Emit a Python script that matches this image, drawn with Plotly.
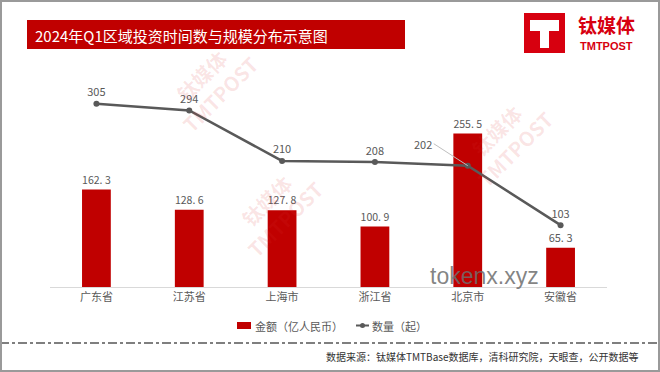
import plotly.graph_objects as go

categories = ["广东省", "江苏省", "上海市", "浙江省", "北京市", "安徽省"]
amount = [162.3, 128.6, 127.8, 100.9, 255.5, 65.3]
count = [305, 294, 210, 208, 202, 103]
amount_labels = ["162. 3", "128. 6", "127. 8", "100. 9", "255. 5", "65. 3"]

FONT = "Noto Sans CJK SC, Microsoft YaHei, sans-serif"
RED = "#C00000"
GRAY = "#595959"


def px(x):
    return (x - 50) / 557


def py(y):
    return (287 - y) / 227


fig = go.Figure()
fig.add_trace(go.Bar(
    x=categories, y=amount, name="金额（亿人民币）", showlegend=False,
    marker=dict(color=RED, line=dict(width=0)), width=0.31,
    text=amount_labels, textposition="outside", cliponaxis=False,
    textfont=dict(size=11, color=GRAY, family=FONT),
))
line_text = [str(v) if c != "北京市" else "" for c, v in zip(categories, count)]
fig.add_trace(go.Scatter(
    x=categories, y=count, name="数量（起）", mode="lines+markers+text", showlegend=False,
    line=dict(color=GRAY, width=2.5), marker=dict(size=6, color=GRAY),
    text=line_text, textposition="top center", cliponaxis=False,
    textfont=dict(size=11, color=GRAY, family=FONT),
))
# 202 label with leader line
fig.add_annotation(x="北京市", y=202, text="202", showarrow=True, arrowhead=0,
                   arrowwidth=1, arrowcolor="#bfbfbf", ax=-34, ay=-22,
                   font=dict(size=11, color=GRAY, family=FONT), xanchor="right")

fig.update_layout(
    width=660, height=372,
    margin=dict(l=50, r=53, t=60, b=85),
    paper_bgcolor="white", plot_bgcolor="white",
    font=dict(family=FONT, color=GRAY),
    showlegend=False,
    xaxis=dict(showgrid=False, ticks="", showline=True, linecolor="#d9d9d9", linewidth=1,
               tickfont=dict(size=11, color=GRAY, family=FONT)),
    yaxis=dict(range=[0, 378], visible=False, showgrid=False, zeroline=False),
)


def note(x, y, text, size, color, family=FONT, xanchor="center", angle=0):
    fig.add_annotation(xref="paper", yref="paper", x=px(x), y=py(y), xanchor=xanchor,
                       yanchor="middle", showarrow=False, text=text, textangle=angle,
                       font=dict(size=size, color=color, family=family))


# watermarks (faint)
for (wx, wy) in [(210, 85), (275, 210), (505, 140)]:
    note(wx, wy, "<b>钛媒体</b><br><b>TMTPOST</b>", 20, "rgba(220,50,50,0.13)", angle=-45)

# manual legend
fig.add_shape(type="rect", xref="paper", yref="paper", x0=px(237), x1=px(251), y0=py(329), y1=py(322),
              fillcolor=RED, line=dict(width=0))
note(253, 325.5, "金额（亿人民币）", 11, GRAY, xanchor="left")
fig.add_shape(type="line", xref="paper", yref="paper", x0=px(356), x1=px(369), y0=py(325.5), y1=py(325.5),
              line=dict(color=GRAY, width=2))
fig.add_shape(type="circle", xref="paper", yref="paper", x0=px(360), x1=px(365), y0=py(328), y1=py(323),
              fillcolor=GRAY, line=dict(width=0))
note(370, 325.5, "数量（起）", 11, GRAY, xanchor="left")

# title bar
fig.add_shape(type="rect", xref="paper", yref="paper",
              x0=px(27), x1=px(405), y0=py(49), y1=py(20),
              fillcolor=RED, line=dict(width=0), layer="below")
note(33, 35, "2024年Q1区域投资时间数与规模分布示意图", 15, "white", xanchor="left")

# logo
fig.add_shape(type="rect", xref="paper", yref="paper", x0=px(524), x1=px(565), y0=py(53), y1=py(13),
              fillcolor="#D7000F", line=dict(width=0))
fig.add_shape(type="rect", xref="paper", yref="paper", x0=px(530), x1=px(559), y0=py(31), y1=py(20),
              fillcolor="white", line=dict(width=0))
fig.add_shape(type="rect", xref="paper", yref="paper", x0=px(540), x1=px(549), y0=py(48), y1=py(31),
              fillcolor="white", line=dict(width=0))
note(606, 25, "<b>钛媒体</b>", 19, "#D7000F")
note(606, 46, "<b>TMTPOST</b>", 11, "#D7000F", family="Arial, sans-serif")

# tokenx watermark text
note(428, 276, "tokenx.xyz", 23, "rgba(110,110,110,0.85)", family="Arial, sans-serif", xanchor="left")

# dash-dot separator
fig.add_shape(type="line", xref="paper", yref="paper", x0=px(0), x1=px(660), y0=py(343), y1=py(343),
              line=dict(color="#555555", width=1.5, dash="dashdot"))
# source
note(641, 356, "数据来源：钛媒体TMTBase数据库，清科研究院，天眼查，公开数据等", 10, "#333333", xanchor="right")
# outer border
fig.add_shape(type="rect", xref="paper", yref="paper", x0=px(1), x1=px(659), y0=py(371), y1=py(1),
              line=dict(color="#9a9a9a", width=2), fillcolor="rgba(0,0,0,0)")

fig.write_html("out.html", config={"displayModeBar": False},
               post_script="document.body.style.margin='0';document.body.style.overflow='hidden';")
